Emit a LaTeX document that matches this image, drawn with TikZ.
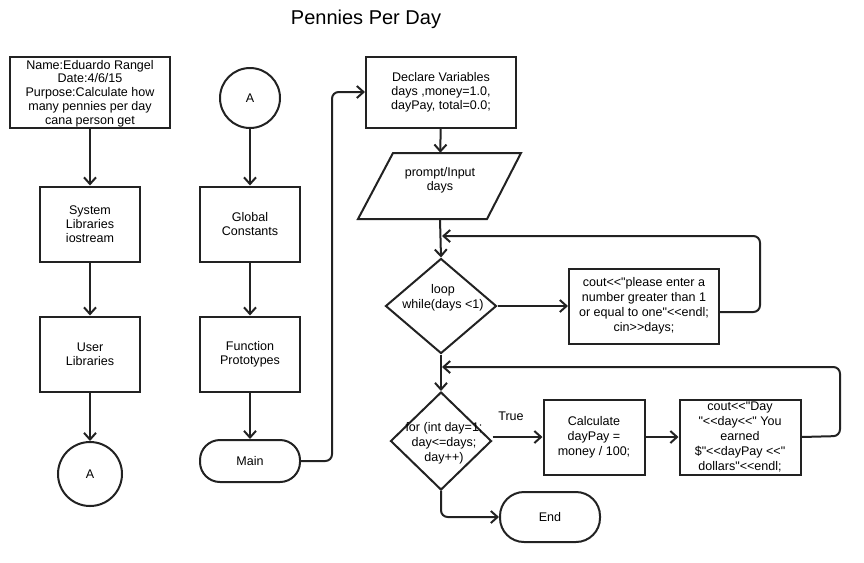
\documentclass[tikz,border=0pt]{standalone}
\usepackage{fontspec}
\newfontfamily\af{Liberation Sans}
\usetikzlibrary{arrows.meta,shapes.geometric,calc}
\definecolor{ln}{HTML}{222222}
\begin{document}
\begin{tikzpicture}[x=0.75pt,y=-0.75pt,
  every node/.style={font=\af\fontsize{9.4}{10.6}\selectfont, text=black},
  wide/.style={font=\af\fontsize{9.4}{11.3}\selectfont},
  box/.style={draw=ln, line width=1.5pt, align=center, inner sep=0pt},
  term/.style={box, rounded corners=15pt},
  conn/.style={draw=ln, line width=1.5pt, -{Straight Barb[length=5pt,width=9pt]}, rounded corners=5pt},
  txt/.style={align=center, inner sep=0pt}
]
\useasboundingbox (0,0) rectangle (864,562);

\node[font=\af\fontsize{15}{18}\selectfont] (title) at (366,19) {Pennies Per Day};

% left column
\node[box, minimum width=120pt, minimum height=53.25pt] (name) at (90,92) {};
\node[txt, font=\af\fontsize{9.4}{10.4}\selectfont] (nametxt) at (90,93.5)
  {Name:Eduardo Rangel\\Date:4/6/15\\Purpose:Calculate how\\many pennies per day\\cana person get};
\node[box, minimum width=75pt, minimum height=56.25pt] (sys) at (90,224) {System\\Libraries\\iostream};
\node[box, minimum width=75pt, minimum height=56.25pt] (usr) at (90,354) {User\\Libraries};
\node[box, circle, minimum size=48pt] (a1) at (90,474) {A};

% second column
\node[box, circle, minimum size=45pt] (a2) at (250,98) {A};
\node[box, minimum width=75pt, minimum height=56.25pt] (glob) at (250,224) {Global\\Constants};
\node[box, minimum width=75pt, minimum height=56.25pt] (proto) at (250,354) {Function\\Prototypes};
\node[term, minimum width=75pt, minimum height=31.5pt] (main) at (250,461) {Main};

% third column
\node[box, minimum width=112.5pt, minimum height=53.25pt] (decl) at (441,92)
  {Declare Variables\\days ,money=1.0,\\dayPay, total=0.0;};
\draw[ln, line width=1.5pt] (393,153) -- (521,153) -- (487,219) -- (358,219) -- cycle;
\node[minimum width=120pt, minimum height=49.5pt, inner sep=0pt] (inp) at (440,186) {};
\node[txt] (inptxt) at (440,180) {prompt/Input\\days};

\node[diamond, draw=ln, line width=1.5pt, minimum width=83.25pt, minimum height=71.25pt, inner sep=0pt] (d1) at (441,306) {};
\node[txt, wide] (d1txt) at (443,298) {loop\\while(days <1)};
\node[box, wide, minimum width=112.5pt, minimum height=56.25pt] (cout1) at (644,306)
  {cout<<"please enter a\\number greater than 1\\or equal to one"<<endl;\\cin>>days;};

\node[diamond, draw=ln, line width=1.5pt, minimum width=75.75pt, minimum height=73.5pt, inner sep=0pt] (d2) at (441,441) {};
\node[txt, wide] (d2txt) at (444,443) {for (int day=1;\\day<=days;\\day++)};
\node[box, wide, minimum width=75.75pt, minimum height=56.25pt] (calc) at (594,437)
  {Calculate\\dayPay =\\money / 100;};
\node[box, wide, minimum width=90.75pt, minimum height=56.25pt] (cout2) at (740,437)
  {cout<<"Day\\"<<day<<" You\\earned\\\$"<<dayPay <<"\\dollars"<<endl;};
\node[term, rounded corners=18pt, minimum width=75pt, minimum height=37.5pt] (end) at (550,517) {End};
\node[txt] (true) at (511,416) {True};

% connectors
\draw[conn] (name) -- (sys);
\draw[conn] (sys) -- (usr);
\draw[conn] (usr) -- (a1);
\draw[conn] (a2) -- (glob);
\draw[conn] (glob) -- (proto);
\draw[conn] (proto) -- (main);
\coordinate (m1) at (332,461);
\coordinate (m2) at (332,92);
\draw[conn] (main.east) -- (m1) -- (m2) -- (decl.west);
\draw[conn] (decl) -- (inp);
\draw[conn] (inp.south) -- (d1.north);
\draw[conn] (d1.east) -- (cout1.west);
\coordinate (r1) at (760,312);
\coordinate (r2) at (760,236);
\coordinate (j1) at (442,236);
\draw[conn] ($(cout1.east)+(0,6)$) -- (r1) -- (r2) -- (j1);
\draw[conn] (d1.south) -- (d2.north);
\draw[conn] (d2.east |- calc.west) -- (calc.west);
\draw[conn] (calc) -- (cout2);
\coordinate (r3) at (840,436);
\coordinate (r4) at (840,367);
\coordinate (j2) at (442,367);
\draw[conn] (cout2.east) -- (r3) -- (r4) -- (j2);
\coordinate (e1) at (441,517);
\draw[conn] (d2.south) -- (e1) -- (end.west);
\end{tikzpicture}
\end{document}
